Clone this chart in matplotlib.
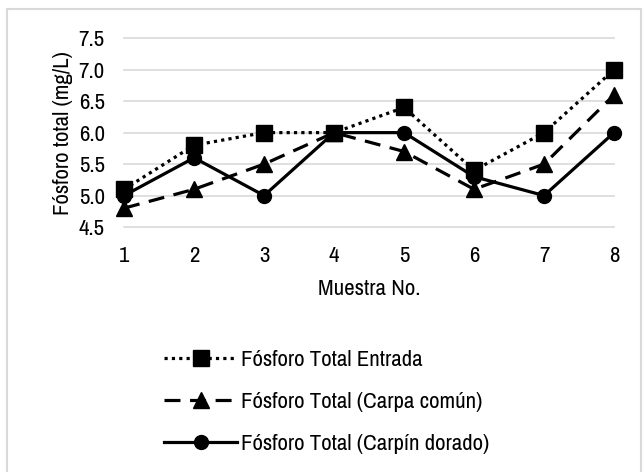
import matplotlib.pyplot as plt
from matplotlib.patches import Rectangle

muestras = [1, 2, 3, 4, 5, 6, 7, 8]
entrada = [5.1, 5.8, 6.0, 6.0, 6.4, 5.4, 6.0, 7.0]
carpa_comun = [4.8, 5.1, 5.5, 6.0, 5.7, 5.1, 5.5, 6.6]
carpin_dorado = [5.0, 5.6, 5.0, 6.0, 6.0, 5.3, 5.0, 6.0]
yticks = [4.5, 5.0, 5.5, 6.0, 6.5, 7.0, 7.5]

# Arial Narrow look; falls back to Liberation Sans if no narrow face is there
plt.rcParams['font.family'] = ['Archivo Narrow', 'Liberation Sans Narrow',
                               'Liberation Sans', 'DejaVu Sans']

fig = plt.figure(figsize=(6.43, 4.72), dpi=100)
ax = fig.add_axes([0.193, 0.519, 0.762, 0.40])

ax.plot(muestras, entrada, color='black', lw=2.3, ls=(0, (1, 1.3)), marker='s', ms=11,
        clip_on=False, label='Fósforo Total Entrada')
ax.plot(muestras, carpa_comun, color='black', lw=2.3, ls=(0, (5, 3)), marker='^', ms=12,
        clip_on=False, label='Fósforo Total (Carpa común)')
ax.plot(muestras, carpin_dorado, color='black', lw=2.3, ls='-', marker='o', ms=10,
        clip_on=False, label='Fósforo Total (Carpín dorado)')

ax.set_xlim(1, 8)
ax.set_ylim(4.5, 7.5)
ax.set_xticks(muestras)
ax.set_yticks(yticks)
ax.set_yticklabels([f'{v:.1f}' for v in yticks])
ax.tick_params(length=0, labelsize=16.5)
ax.tick_params(axis='x', pad=14)
ax.tick_params(axis='y', pad=14)
ax.grid(axis='y', color='#d9d9d9', lw=1.2)
for gl in ax.get_ygridlines():
    gl.set_clip_on(False)
ax.set_axisbelow(True)
for s in ax.spines.values():
    s.set_visible(False)
ax.set_xlabel('Muestra No.', fontsize=16.5, labelpad=9)
ax.set_ylabel('Fósforo total (mg/L)', fontsize=16.5, labelpad=4)

fig.legend(loc='center left', bbox_to_anchor=(0.255, 0.148), frameon=False,
           fontsize=16.5, handlelength=3.2, labelspacing=0.95, handletextpad=0.15,
           borderpad=0, borderaxespad=0)

fig.patches.append(Rectangle((0.011, -0.01), 0.986, 0.99, transform=fig.transFigure,
                             fill=False, edgecolor='#d9d9d9', lw=1.5))

fig.savefig('out.png', dpi=100)
